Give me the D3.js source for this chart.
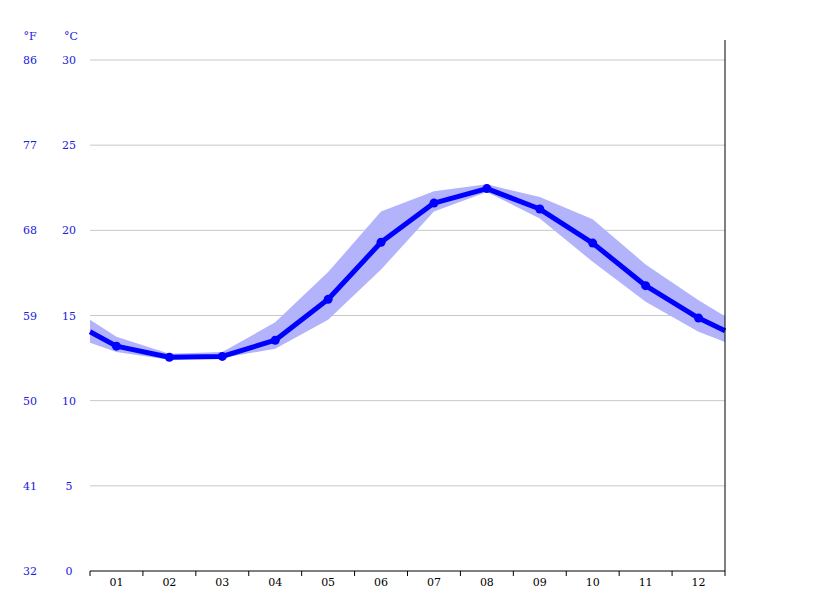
<!DOCTYPE html>
<html><head><meta charset="utf-8">
<script src="https://cdn.jsdelivr.net/npm/d3@7"></script>
<style>body{margin:0;background:#fff}svg text{font-family:"DejaVu Serif",serif;font-size:11px}</style>
</head><body><svg width="815" height="611"></svg>
<script>
// month labels, plus half-month edge points at both ends
var months = ['01','02','03','04','05','06','07','08','09','10','11','12'];
var meanTemp = [14.05, 13.2, 12.55, 12.6, 13.55, 15.95, 19.3, 21.6, 22.45, 21.25, 19.25, 16.75, 14.85, 14.1];
var upperTemp = [14.75, 13.75, 12.75, 12.85, 14.6, 17.55, 21.1, 22.3, 22.7, 21.95, 20.65, 18.0, 15.9, 14.95];
var lowerTemp = [13.4, 12.85, 12.4, 12.5, 13.05, 14.75, 17.7, 21.1, 22.25, 20.7, 18.15, 15.8, 14.05, 13.45];
var celsiusTicks = [0, 5, 10, 15, 20, 25, 30];

var svg = d3.select('svg');
var plotLeft = 90, plotRight = 725, plotTop = 60, plotBottom = 571;

// position index: 0 = left edge, 1..12 = months, 13 = right edge
var x = d3.scaleLinear().domain([0.5, 12.5]).range([plotLeft, plotRight]);
var xPos = function(i) { return i === 0 ? x(0.5) : i === 13 ? x(12.5) : x(i); };
var y = d3.scaleLinear().domain([0, 30]).range([plotBottom, plotTop]);

//grid
svg.append('g').selectAll('line').data(celsiusTicks.filter(function(d){return d>0;}))
	.enter().append('line')
	.attr('x1', plotLeft).attr('x2', plotRight)
	.attr('y1', function(d){return y(d);}).attr('y2', function(d){return y(d);})
	.attr('stroke', '#c8c8c8');

//band
var area = d3.area()
	.x(function(d, i){return xPos(i);})
	.y0(function(d, i){return y(lowerTemp[i]);})
	.y1(function(d){return y(d);});
svg.append('path').datum(upperTemp).attr('d', area).attr('fill', '#b3b3fb');

//line
var line = d3.line().x(function(d, i){return xPos(i);}).y(function(d){return y(d);});
svg.append('path').datum(meanTemp).attr('d', line)
	.attr('fill', 'none').attr('stroke', '#0000ff').attr('stroke-width', 5).attr('stroke-linejoin', 'round');
svg.append('g').selectAll('circle').data(meanTemp.slice(1, 13)).enter().append('circle')
	.attr('cx', function(d, i){return x(i + 1);}).attr('cy', function(d){return y(d);})
	.attr('r', 4.5).attr('fill', '#0000ff');

//axes
svg.append('line').attr('x1', plotRight).attr('x2', plotRight).attr('y1', 40).attr('y2', plotBottom).attr('stroke', '#000');
svg.append('line').attr('x1', plotLeft).attr('x2', plotRight).attr('y1', plotBottom).attr('y2', plotBottom).attr('stroke', '#000');
svg.append('g').selectAll('line').data(d3.range(0, 13)).enter().append('line')
	.attr('x1', function(d){return x(d + 0.5);}).attr('x2', function(d){return x(d + 0.5);})
	.attr('y1', plotBottom).attr('y2', plotBottom + 5).attr('stroke', '#000');
svg.append('g').selectAll('text').data(months).enter().append('text')
	.attr('x', function(d, i){return x(i + 1);}).attr('y', 586)
	.attr('text-anchor', 'middle').attr('fill', '#000').text(function(d){return d;});

var yl = svg.append('g').selectAll('g').data(celsiusTicks).enter().append('g');
yl.append('text').attr('x', 69).attr('y', function(d){return y(d) + 4;})
	.attr('text-anchor', 'middle').attr('fill', '#2020e0').text(function(d){return d;});
yl.append('text').attr('x', 30).attr('y', function(d){return y(d) + 4;})
	.attr('text-anchor', 'middle').attr('fill', '#2020e0').text(function(d){return Math.round(d * 9 / 5 + 32);});
svg.append('text').attr('x', 30).attr('y', 40).attr('text-anchor', 'middle').attr('fill', '#2020e0').text('°F');
svg.append('text').attr('x', 71).attr('y', 40).attr('text-anchor', 'middle').attr('fill', '#2020e0').text('°C');
</script></body></html>
